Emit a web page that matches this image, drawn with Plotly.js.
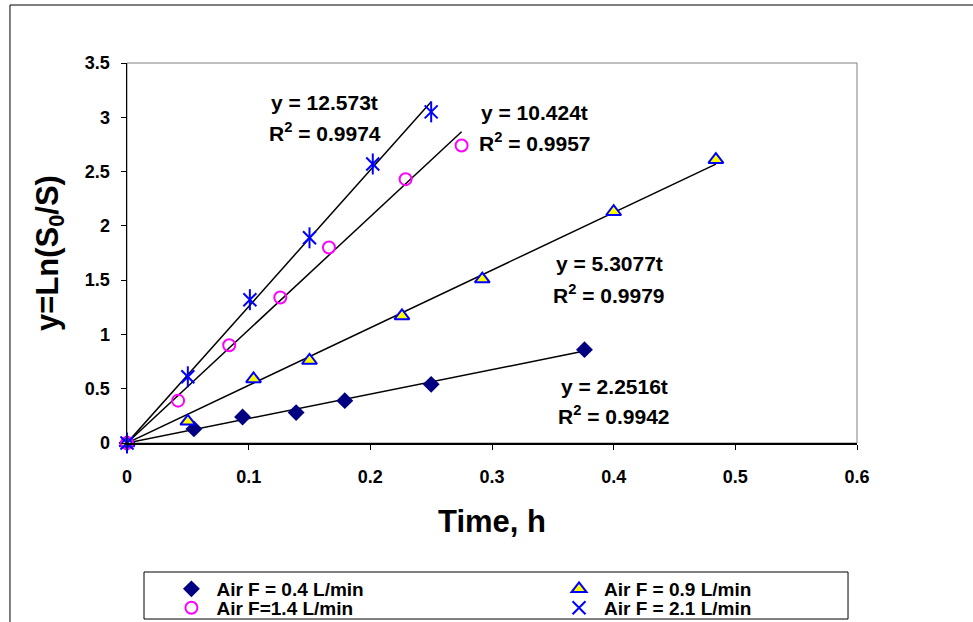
<!DOCTYPE html>
<html>
<head>
<meta charset="utf-8">
<script src="https://cdn.plot.ly/plotly-3.0.1.min.js"></script>
<style>html,body{margin:0;padding:0;background:#fff;}#chart{width:973px;height:622px;}</style>
</head>
<body>
<div id="chart"></div>
<script>
// Air F = 0.4 L/min
const t04 = [0, 0.055, 0.095, 0.139, 0.179, 0.250, 0.376];
const y04 = [0, 0.13, 0.24, 0.28, 0.39, 0.54, 0.86];
// Air F = 0.9 L/min
const t09 = [0, 0.050, 0.104, 0.150, 0.226, 0.292, 0.400, 0.484];
const y09 = [0, 0.20, 0.59, 0.76, 1.17, 1.51, 2.13, 2.61];
// Air F = 1.4 L/min
const t14 = [0, 0.042, 0.084, 0.126, 0.166, 0.229, 0.275];
const y14 = [0, 0.39, 0.90, 1.34, 1.80, 2.43, 2.74];
// Air F = 2.1 L/min
const t21 = [0, 0.050, 0.101, 0.150, 0.202, 0.250];
const y21 = [0, 0.61, 1.32, 1.89, 2.57, 3.05];

const seriesNames = ["Air F = 0.4 L/min", "Air F = 0.9 L/min", "Air F=1.4 L/min", "Air F = 2.1 L/min"];
const slopes = [2.2516, 5.3077, 10.424, 12.573];
const r2 = ["0.9942", "0.9979", "0.9957", "0.9974"];

const FONT = "Liberation Sans, Arial, sans-serif";
const xs = [t04, t09, t14, t21];

// trendlines through origin
const trend = xs.map((tx, i) => {
  const tmax = Math.max(...tx);
  return {x: [0, tmax], y: [0, slopes[i] * tmax], mode: "lines", type: "scatter",
    line: {color: "#000", width: 1.5}, showlegend: false, hoverinfo: "skip"};
});

const traces = [
  ...trend,
  {x: t04, y: y04, name: seriesNames[0], legend: "legend", mode: "markers", type: "scatter", cliponaxis: false,
   marker: {symbol: "diamond", size: 13, color: "#000080", line: {width: 0}}},
  {x: t09, y: y09, name: seriesNames[1], legend: "legend2", mode: "markers", type: "scatter", cliponaxis: false,
   marker: {symbol: "triangle-up", size: 13, color: "#FFFF00", line: {color: "#0000FF", width: 2}}},
  {x: t14, y: y14, name: seriesNames[2], legend: "legend3", mode: "markers", type: "scatter", cliponaxis: false,
   marker: {symbol: "circle-open", size: 12, color: "#FF00FF", line: {color: "#FF00FF", width: 2}}},
  {x: t21, y: y21, name: seriesNames[3], legend: "legend4", mode: "markers", type: "scatter", cliponaxis: false,
   marker: {symbol: "x-thin-open", size: 13, color: "#0000FF", line: {color: "#0000FF", width: 2}}},
  {x: t21, y: y21, mode: "markers", type: "scatter", cliponaxis: false, showlegend: false,
   marker: {symbol: "line-ns-open", size: 15, color: "#0000FF", line: {color: "#0000FF", width: 2}}}
];

const annPos = [
  {x: 0.4003, y1: 0.525, y2: 0.258},
  {x: 0.3962, y1: 1.649, y2: 1.372},
  {x: 0.3353, y1: 3.040, y2: 2.772},
  {x: 0.1627, y1: 3.132, y2: 2.864}
];
const annotations = [];
slopes.forEach((s, i) => {
  annotations.push({x: annPos[i].x, y: annPos[i].y1, xref: "x", yref: "y", showarrow: false,
    text: "y = " + s + "t", font: {family: FONT, size: 21, color: "#000", weight: "bold"}});
  annotations.push({x: annPos[i].x, y: annPos[i].y2, xref: "x", yref: "y", showarrow: false,
    text: "R<sup>2</sup> = " + r2[i], font: {family: FONT, size: 21, color: "#000", weight: "bold"}});
});

function legendAt(x, y) {
  return {orientation: "v", x: x, xanchor: "left", yref: "container", y: y, yanchor: "top",
    itemwidth: 40, bgcolor: "rgba(0,0,0,0)", borderwidth: 0, tracegroupgap: 0,
    font: {family: FONT, size: 19, color: "#000", weight: "bold"}};
}

const layout = {
  width: 973, height: 622,
  margin: {l: 127, r: 116, t: 63, b: 179, autoexpand: false},
  paper_bgcolor: "#fff", plot_bgcolor: "#fff",
  showlegend: true,
  xaxis: {range: [0, 0.6], dtick: 0.1, tick0: 0, showgrid: false, zeroline: false,
    showline: true, linecolor: "#000", linewidth: 1.5, ticks: "outside", ticklen: 5, tickcolor: "#000",
    ticklabelstandoff: 12, automargin: false,
    tickfont: {family: FONT, size: 18, color: "#000", weight: "bold"},
    title: {text: "Time, h", standoff: 24, font: {family: FONT, size: 31, color: "#000", weight: "bold"}}},
  yaxis: {range: [0, 3.5], dtick: 0.5, tick0: 0, showgrid: false, zeroline: false,
    showline: true, linecolor: "#000", linewidth: 1.5, ticks: "outside", ticklen: 5, tickcolor: "#000",
    ticklabelstandoff: 7, automargin: false,
    tickfont: {family: FONT, size: 18, color: "#000", weight: "bold"},
    title: {text: "y=Ln(S<sub>0</sub>/S)", standoff: 17, font: {family: FONT, size: 31, color: "#000", weight: "bold"}}},
  legend: legendAt(0.054, 0.0836),
  legend2: legendAt(0.585, 0.0836),
  legend3: legendAt(0.054, 0.0531),
  legend4: legendAt(0.585, 0.0531),
  shapes: [
    {type: "rect", xref: "paper", yref: "paper", x0: 0, x1: 1, y0: 0, y1: 1,
     line: {color: "#808080", width: 1}, layer: "below"},
    {type: "rect", xref: "paper", yref: "paper", x0: 0.0233, x1: 0.9877, y0: -0.4632, y1: -0.3395,
     line: {color: "#000", width: 1}, fillcolor: "rgba(0,0,0,0)"},
    {type: "rect", xref: "paper", yref: "paper", x0: -0.1603, x1: 1.3, y0: -0.6, y1: 1.1526,
     line: {color: "#000", width: 1}, fillcolor: "rgba(0,0,0,0)"}
  ],
  annotations: annotations
};

Plotly.newPlot("chart", traces, layout, {displayModeBar: false, staticPlot: true});
</script>
</body>
</html>
